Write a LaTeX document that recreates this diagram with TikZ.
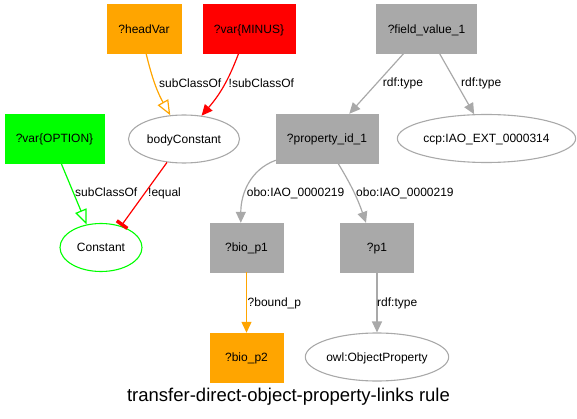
\documentclass[tikz,border=0pt]{standalone}
\usepackage{fontspec}
\setmainfont{Liberation Sans}
\usetikzlibrary{arrows.meta,shapes.geometric}
\definecolor{gvgray}{HTML}{A9A9A9}
\definecolor{gvorange}{HTML}{FFA500}
\definecolor{gvred}{HTML}{FF0000}
\definecolor{gvgreen}{HTML}{00FF00}
\begin{document}
\begin{tikzpicture}[x=1pt,y=-1pt,
  txt/.style={font=\fontsize{12}{14}\selectfont, text height=8.6pt, text depth=0pt},
  box/.style={txt, rectangle, inner sep=0pt, minimum height=49pt, fill=#1, draw=#1},
  ell/.style={txt, ellipse, inner sep=0pt, minimum height=48pt, draw=#1, line width=1.1pt},
  elabel/.style={txt, anchor=west, inner sep=0pt},
  link/.style={line width=1.2pt, draw=#1},
  head/.style={-{Triangle[length=11pt,width=10pt]}},
  ohead/.style={-{Triangle[open,length=15pt,width=12pt,fill=white]}},
  teehead/.style={-{Bar[width=13pt,line width=3.5pt]}},
]
\useasboundingbox (0,0) rectangle (577,419);

% rule nodes
\node[box=gvorange, minimum width=74pt] (hv) at (144,29) {?headVar};
\node[box=gvred, minimum width=92pt] (mv) at (249,29) {?var\{MINUS\}};
\node[box=gvgray, minimum width=100pt] (fv) at (426.5,29) {?field\_value\_1};
\node[box=gvgreen, minimum width=99pt] (ov) at (54.5,138.5) {?var\{OPTION\}};
\node[ell=gvgray, minimum width=111pt] (bc) at (184,139) {bodyConstant};
\node[box=gvgray, minimum width=102pt] (pid) at (327,138.5) {?property\_id\_1};
\node[ell=gvgray, minimum width=171pt] (ccp) at (486.5,138.5) {ccp:IAO\_EXT\_0000314};
\node[ell=gvgreen, minimum width=82pt] (con) at (101,247.5) {Constant};
\node[box=gvgray, minimum width=73pt] (bp1) at (246.5,247.5) {?bio\_p1};
\node[box=gvgray, minimum width=73pt] (p1) at (377,247.5) {?p1};
\node[box=gvorange, minimum width=73pt] (bp2) at (246.5,357.5) {?bio\_p2};
\node[ell=gvgray, minimum width=142pt] (owl) at (377,357) {owl:ObjectProperty};

% connectors
\draw[link=gvorange, ohead] (hv.-85) to[bend right=8] (bc.120);
\draw[link=gvred, head] (mv.-113) to[bend left=10] (bc.53);
\draw[link=gvgreen, ohead] (ov.-75) -- (con.122);
\draw[link=gvred, teehead] (bc.-126) -- (con.47);
\draw[link=gvgray, head] (fv.-133) -- (pid.48);
\draw[link=gvgray, head] (fv.-62.5) -- (ccp.117);
\draw[link=gvgray, head] (pid.-157) to[out=200,in=90] (bp1.103);
\draw[link=gvgray, head] (pid.-66) to[bend left=6] (p1.114);
\draw[link=gvorange, head] (bp1) -- (bp2);
\draw[link=gvgray, head] (p1) -- (owl);

% connector labels
\node[elabel] (l1) at (159,83) {subClassOf};
\node[elabel] (l2) at (228.5,83) {!subClassOf};
\node[elabel] (l3) at (382.7,82.5) {rdf:type};
\node[elabel] (l4) at (461,82.5) {rdf:type};
\node[elabel] (l5) at (75,192.7) {subClassOf};
\node[elabel] (l6) at (148,192.7) {!equal};
\node[elabel] (l7) at (246.7,192.7) {obo:IAO\_0000219};
\node[elabel] (l8) at (356,192.7) {obo:IAO\_0000219};
\node[elabel] (l9) at (247.5,301.7) {?bound\_p};
\node[elabel] (l10) at (377,301.7) {rdf:type};

% title
\node[font=\fontsize{18.5}{22}\selectfont, text height=13.2pt, text depth=0pt, inner sep=0pt] (title) at (288.5,395.3) {transfer-direct-object-property-links rule};
\end{tikzpicture}
\end{document}
